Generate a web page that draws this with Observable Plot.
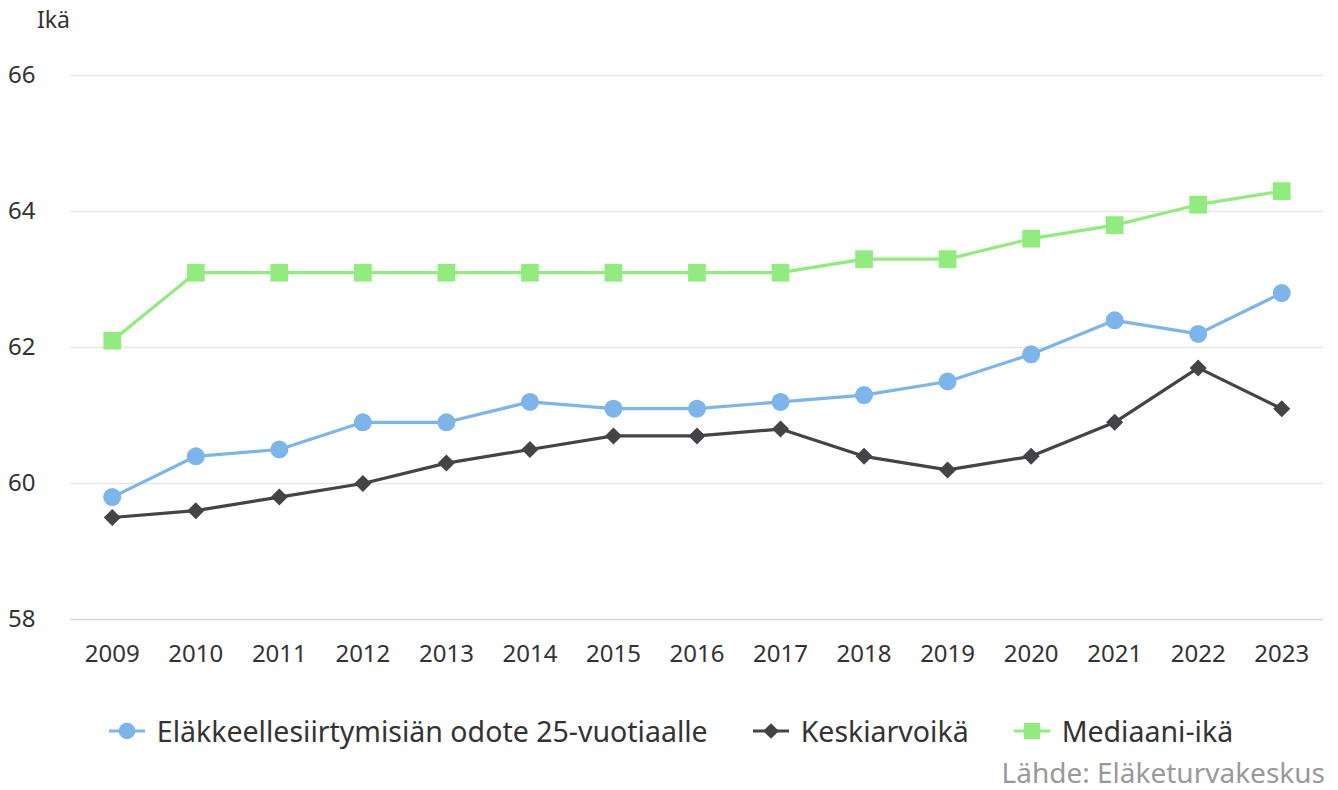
<!DOCTYPE html>
<html>
<head>
<meta charset="utf-8">
<script src="https://cdn.jsdelivr.net/npm/d3@7"></script>
<script src="https://cdn.jsdelivr.net/npm/@observablehq/plot@0.6"></script>
<style>
  html, body { margin: 0; padding: 0; background: #fff; }
  body { width: 1338px; height: 790px; position: relative; font-family: "Noto Sans", sans-serif; overflow: hidden; }
  #ylabel { position: absolute; left: 37px; top: 3px; font-size: 23px; color: #333; }
  #chart { position: absolute; left: 0; top: 0; }
  #legend { position: absolute; left: 2px; top: 712px; width: 1338px; display: flex; justify-content: center; gap: 45px; font-size: 28.5px; color: #333; }
  .item { display: flex; align-items: center; gap: 12px; }
  #caption { position: absolute; right: 13px; top: 753px; font-size: 28px; color: #999; }
</style>
</head>
<body>
<div id="chart"></div>
<div id="ylabel">Ikä</div>
<div id="legend"></div>
<div id="caption">Lähde: Eläketurvakeskus</div>
<script>
const years = [2009, 2010, 2011, 2012, 2013, 2014, 2015, 2016, 2017, 2018, 2019, 2020, 2021, 2022, 2023];
const seriesNames = ["Eläkkeellesiirtymisiän odote 25-vuotiaalle", "Keskiarvoikä", "Mediaani-ikä"];
const odote = [59.8, 60.4, 60.5, 60.9, 60.9, 61.2, 61.1, 61.1, 61.2, 61.3, 61.5, 61.9, 62.4, 62.2, 62.8];
const keskiarvo = [59.5, 59.6, 59.8, 60.0, 60.3, 60.5, 60.7, 60.7, 60.8, 60.4, 60.2, 60.4, 60.9, 61.7, 61.1];
const mediaani = [62.1, 63.1, 63.1, 63.1, 63.1, 63.1, 63.1, 63.1, 63.1, 63.3, 63.3, 63.6, 63.8, 64.1, 64.3];
const yTicks = [58, 60, 62, 64, 66];
const colors = ["#7cb5ec", "#434348", "#90ed7d"];
const symbols = ["circle", "square", "square"];
const radii = [9, 6.8, 10];
const rotations = [0, 45, 0];

const allValues = [odote, keskiarvo, mediaani];
const data = [];
seriesNames.forEach((s, i) => {
  years.forEach((y, j) => data.push({series: s, year: String(y), value: allValues[i][j]}));
});

const marks = [
  Plot.ruleY(yTicks.filter(t => t !== 58), {stroke: "#e6e6e6", strokeWidth: 1.5}),
  Plot.ruleY([58], {stroke: "#ccd6eb", strokeWidth: 1.5}),
  Plot.axisY({ticks: yTicks, tickSize: 0, tickPadding: 35, label: null, fontSize: 24, fill: "#333"}),
  Plot.axisX({tickSize: 0, tickPadding: 25, label: null, fontSize: 24, fill: "#333"})
];
seriesNames.forEach((s, i) => {
  const d = data.filter(r => r.series === s);
  marks.push(Plot.line(d, {x: "year", y: "value", stroke: colors[i], strokeWidth: 3.2}));
  marks.push(Plot.dot(d, {x: "year", y: "value", fill: colors[i], symbol: symbols[i], r: radii[i], rotate: rotations[i], stroke: "none"}));
});

const chart = Plot.plot({
  width: 1338,
  height: 680,
  marginLeft: 70,
  marginRight: 15,
  marginTop: 75,
  marginBottom: 61,
  style: {fontFamily: "Noto Sans", fontSize: "24px", background: "transparent", color: "#333"},
  x: {type: "point", domain: years.map(String), padding: 0.5, round: false},
  y: {domain: [58, 66]},
  marks
});
document.getElementById("chart").appendChild(chart);

const legend = document.getElementById("legend");
seriesNames.forEach((s, i) => {
  const item = document.createElement("div");
  item.className = "item";
  const sym = d3.symbol(i === 0 ? d3.symbolCircle : d3.symbolSquare, Math.PI * radii[i] * radii[i] * 0.85)();
  item.innerHTML = `<svg width="36" height="22" viewBox="0 0 36 22"><line x1="0" y1="11" x2="36" y2="11" stroke="${colors[i]}" stroke-width="3.2"/><path d="${sym}" transform="translate(18,11) rotate(${rotations[i]})" fill="${colors[i]}"/></svg><span>${s}</span>`;
  legend.appendChild(item);
});
</script>
</body>
</html>
